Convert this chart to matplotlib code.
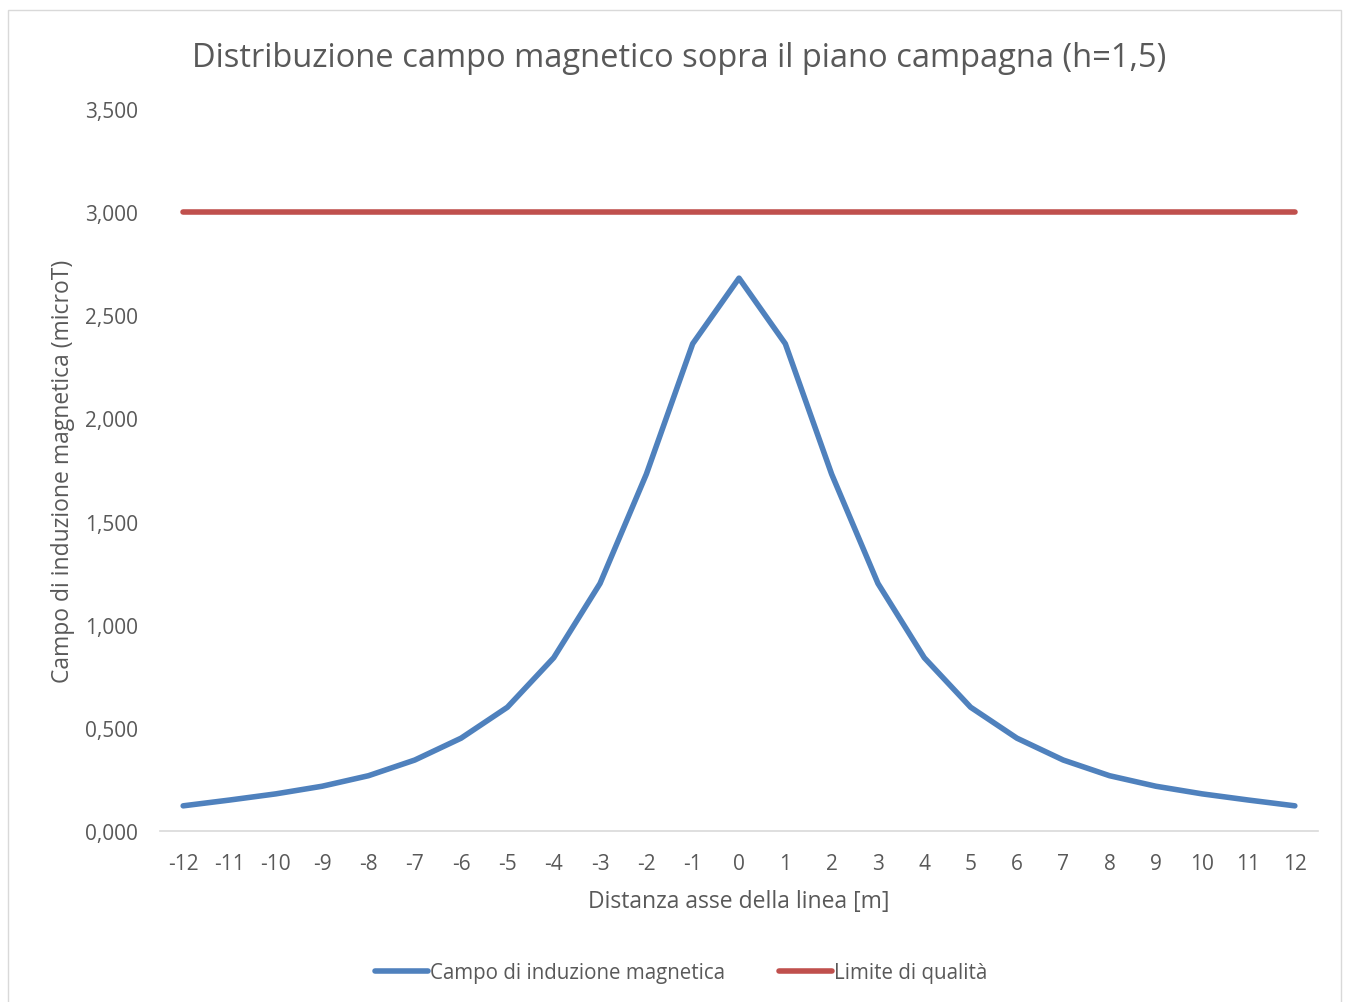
import matplotlib
matplotlib.use("Agg")
import matplotlib.pyplot as plt
from matplotlib.patches import Rectangle
from matplotlib.ticker import FuncFormatter

# distance from line axis [m]
distanza = list(range(-12, 13))
# magnetic induction (microT)
campo = [0.122, 0.150, 0.180, 0.217, 0.268, 0.344, 0.450, 0.600, 0.840, 1.200,
         1.730, 2.362, 2.680,
         2.362, 1.730, 1.200, 0.840, 0.600, 0.450, 0.344, 0.268, 0.217, 0.180, 0.150, 0.122]
limite = [3.0] * len(distanza)

TXT = "#595959"
plt.rcParams['font.family'] = ['Open Sans', 'DejaVu Sans']

fig = plt.figure(figsize=(13.46, 10.03), dpi=100)
fig.patches.append(Rectangle((8 / 1346, -0.01), 1333 / 1346, 1 - 11 / 1003 + 0.01,
                             transform=fig.transFigure, fill=False,
                             edgecolor="#d9d9d9", lw=1))
ax = fig.add_axes([160 / 1346, 171 / 1003, 1158 / 1346, 722 / 1003])

l1, = ax.plot(distanza, campo, color="#4f81bd", lw=4, solid_capstyle="round",
              solid_joinstyle="round", label="Campo di induzione magnetica")
l2, = ax.plot(distanza, limite, color="#c0504d", lw=4, solid_capstyle="round",
              label="Limite di qualità")

ax.set_xlim(-12.5, 12.5)
ax.set_ylim(0, 3.5)
ax.set_xticks(distanza)
ax.set_xticklabels([str(d) for d in distanza])
ax.set_yticks([0, 0.5, 1, 1.5, 2, 2.5, 3, 3.5])
ax.yaxis.set_major_formatter(FuncFormatter(lambda v, p: f"{v:.3f}".replace(".", ",")))

for s in ["top", "right", "left"]:
    ax.spines[s].set_visible(False)
ax.spines["bottom"].set_color("#d9d9d9")
ax.spines["bottom"].set_linewidth(1.2)
ax.tick_params(axis="both", length=0, labelsize=15, colors=TXT)
ax.tick_params(axis="x", pad=15.5)
ax.tick_params(axis="y", pad=16)

ax.set_xlabel("Distanza asse della linea [m]", fontsize=16.5, color=TXT, labelpad=11)
ax.set_ylabel("Campo di induzione magnetica (microT)", fontsize=16.5, color=TXT, labelpad=7)
fig.text(0.5045, 0.942, "Distribuzione campo magnetico sopra il piano campagna (h=1,5)",
         ha="center", va="center", fontsize=23.5, color=TXT)

fig.legend(handles=[l1, l2], loc="center", bbox_to_anchor=(0.506, 0.029), ncol=2,
           frameon=False, fontsize=14.8, labelcolor=TXT, handlelength=2.6,
           handletextpad=0.1, columnspacing=2.6)

fig.savefig("out.png", dpi=100)
